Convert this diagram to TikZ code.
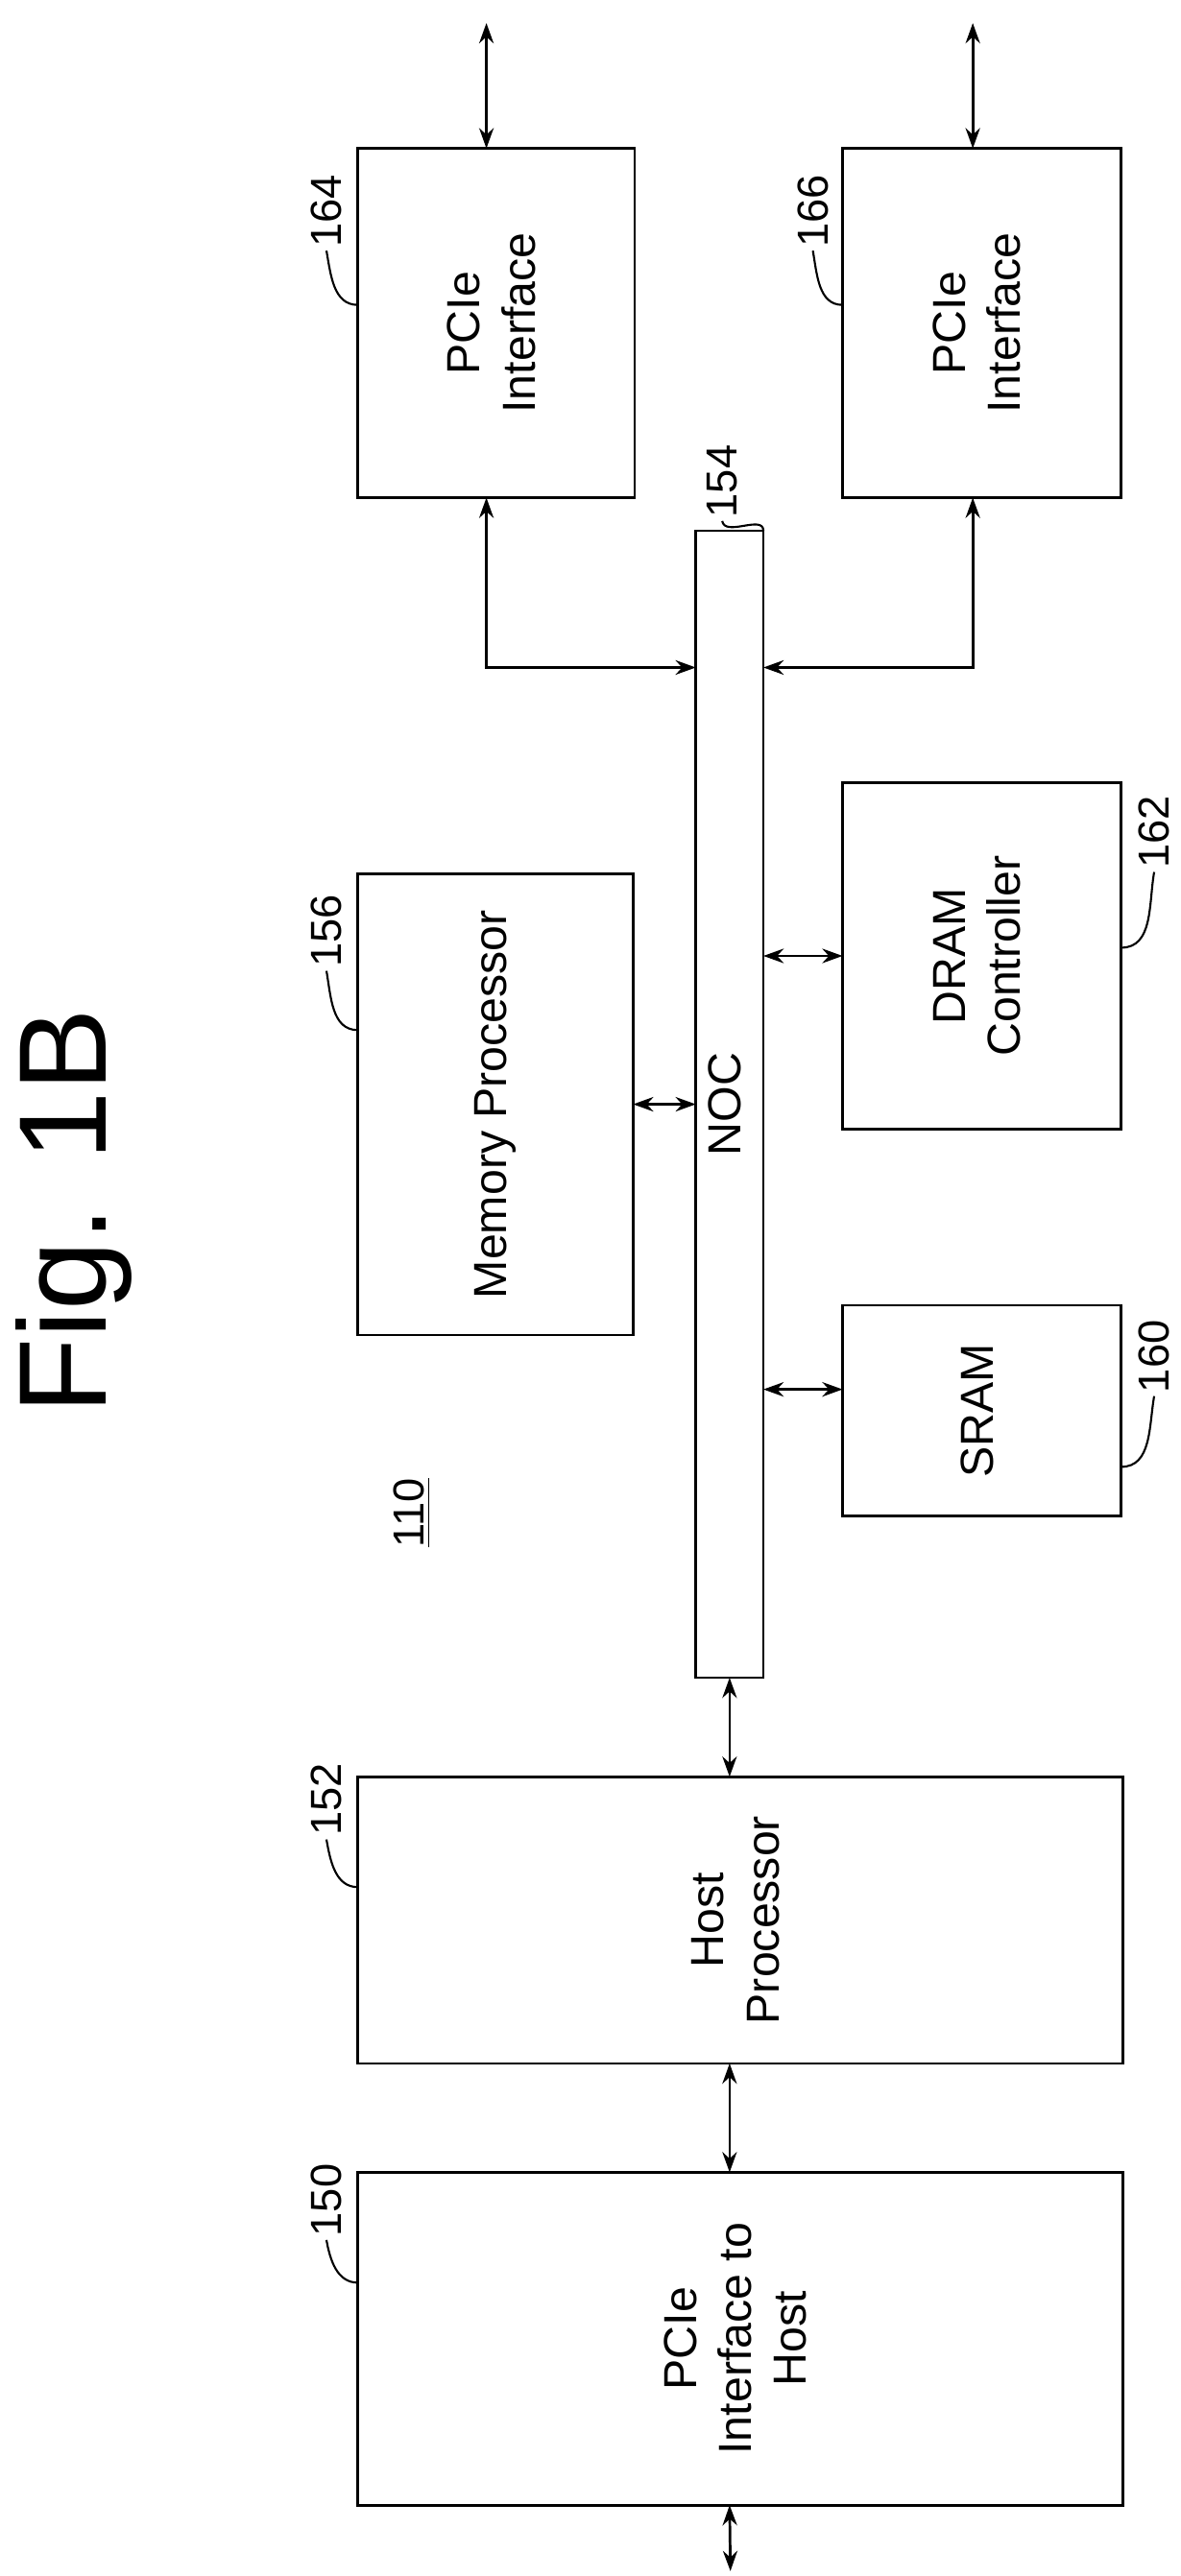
\documentclass[tikz,border=0pt]{standalone}
\usepackage{fontspec}
\setmainfont{Liberation Sans}
\usetikzlibrary{arrows.meta,calc}
\tikzstyle{box}=[draw, line width=0.9pt, inner sep=0pt, outer sep=0pt, font=\fontsize{16}{19}\selectfont]
\tikzstyle{edge}=[{Stealth[length=7pt,width=5pt]}-{Stealth[length=7pt,width=5pt]}, line width=0.9pt]
\tikzstyle{lead}=[line width=0.7pt]
\tikzstyle{num}=[rotate=90, font=\fontsize{15}{18}\selectfont, inner sep=1pt]
\newcommand{\vtext}[1]{\rotatebox{90}{\begin{tabular}{@{}c@{}}#1\end{tabular}}}
\begin{document}
\begin{tikzpicture}[x=0.02cm, y=-0.02cm]
      \useasboundingbox (0,0) rectangle (716,1563);
      \node(fig) [rotate=90, font=\fontsize{43}{50}\selectfont] at (45,735) {Fig. 1B};
      \node(p164) [box, minimum width=3.36cm, minimum height=4.24cm] at (301,196) {\vtext{PCIe\\Interface}};
      \node(p166) [box, minimum width=3.38cm, minimum height=4.24cm] at (595.5,196) {\vtext{PCIe\\Interface}};
      \node(noc) [box, minimum width=0.82cm, minimum height=13.92cm] at (442.5,670) {\vtext{NOC}};
      \node(mem) [box, minimum width=3.34cm, minimum height=5.6cm] at (300.5,670) {\vtext{Memory Processor}};
      \node(dram) [box, minimum width=3.38cm, minimum height=4.2cm] at (595.5,580) {\vtext{DRAM\\Controller}};
      \node(sram) [box, minimum width=3.38cm, minimum height=2.56cm] at (595.5,856) {\vtext{SRAM}};
      \node(host) [box, minimum width=9.28cm, minimum height=3.48cm] at (449,1165) {\vtext{Host\\Processor}};
      \node(pcih) [box, minimum width=9.28cm, minimum height=4.04cm] at (449,1419) {\vtext{PCIe\\Interface to\\Host}};
      \node(sys) [num] at (250,918) {\underline{110}};
      \coordinate(t1) at (295,14);
      \coordinate(t2) at (590,14);
      \coordinate(j) at (0,405);
      \coordinate(s) at (0,843);
      \coordinate(bot) at (443,1560);
      \draw[edge] (t1) -- (t1 |- p164.north);
      \draw[edge] (t2) -- (t2 |- p166.north);
      \draw[edge] (t1 |- p164.south) |- (noc.west |- j);
      \draw[edge] (t2 |- p166.south) |- (noc.east |- j);
      \draw[edge] (mem.east) -- (mem.east -| noc.west);
      \draw[edge] (noc.east |- dram.west) -- (dram.west);
      \draw[edge] (noc.east |- s) -- (sram.west |- s);
      \draw[edge] (noc.south) -- (noc.south |- host.north);
      \draw[edge] (host.south -| noc) -- (pcih.north -| noc);
      \draw[edge] (pcih.south -| noc) -- (bot);
      % reference numerals
      \node(n164) [num] at (198,128) {164};
      \node(n166) [num] at (493,128) {166};
      \node(n154) [num] at (438,292) {154};
      \node(n156) [num] at (198,565) {156};
      \node(n162) [num] at (700,505) {162};
      \node(n160) [num] at (700,823) {160};
      \node(n152) [num] at (198,1092) {152};
      \node(n150) [num] at (198,1335) {150};
      \draw[lead] (n164.west) to[out=-80, in=180] (p164.west |- 0,185);
      \draw[lead] (n166.west) to[out=-80, in=180] (p166.west |- 0,185);
      \draw[lead] (n154.west) to[out=-80, in=90] (noc.north east);
      \draw[lead] (n156.west) to[out=-80, in=180] (mem.west |- 0,625);
      \draw[lead] (n162.west) to[out=-100, in=0] (dram.east |- 0,575);
      \draw[lead] (n160.west) to[out=-100, in=0] (sram.east |- 0,890);
      \draw[lead] (n152.west) to[out=-80, in=180] (host.west |- 0,1145);
      \draw[lead] (n150.west) to[out=-80, in=180] (pcih.west |- 0,1385);
    \end{tikzpicture}
\end{document}
